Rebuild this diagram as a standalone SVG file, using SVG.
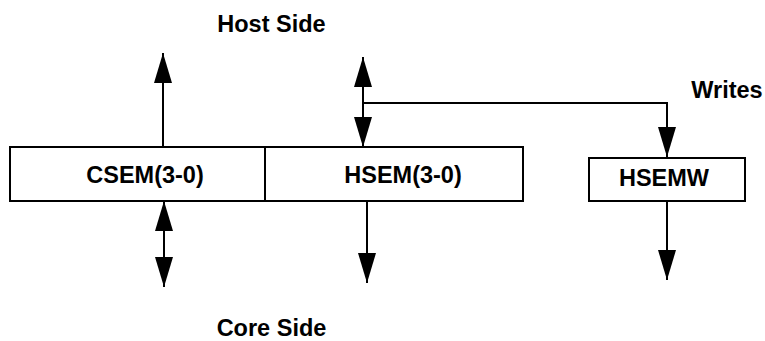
<svg xmlns="http://www.w3.org/2000/svg" width="765" height="341" viewBox="0 0 765 341">
<style>
.box{fill:#fff;stroke:#000;stroke-width:2}
.lbl{font-family:"Liberation Sans",Arial,sans-serif;font-weight:bold;font-size:23.5px;fill:#000;text-anchor:middle}
.wire{fill:none;stroke:#000;stroke-width:2}
</style>
<defs>
<marker id="ah" viewBox="0 0 30 18" refX="30" refY="9" markerWidth="30" markerHeight="18" markerUnits="userSpaceOnUse" orient="auto-start-reverse">
<path d="M0,0 L30,9 L0,18 z" fill="#000"/>
</marker>
</defs>
<rect width="765" height="341" fill="#fff"/>
<text class="lbl" x="271.5" y="32">Host Side</text>
<text class="lbl" x="727" y="98">Writes</text>
<text class="lbl" x="271.5" y="336">Core Side</text>
<g id="connectors">
<line class="wire" x1="163" y1="147" x2="163" y2="53" marker-end="url(#ah)"/>
<line class="wire" x1="363" y1="57" x2="363" y2="147" marker-start="url(#ah)" marker-end="url(#ah)"/>
<polyline class="wire" points="363,103 667,103 667,157" marker-end="url(#ah)"/>
<line class="wire" x1="164" y1="201" x2="164" y2="287" marker-start="url(#ah)" marker-end="url(#ah)"/>
<line class="wire" x1="367" y1="201" x2="367" y2="283" marker-end="url(#ah)"/>
<line class="wire" x1="667" y1="201" x2="667" y2="280" marker-end="url(#ah)"/>
</g>
<g id="csem">
<rect class="box" x="10" y="147" width="255" height="54"/>
<text class="lbl" x="145" y="183">CSEM(3-0)</text>
</g>
<g id="hsem">
<rect class="box" x="265" y="147" width="258" height="54"/>
<text class="lbl" x="403" y="183">HSEM(3-0)</text>
</g>
<g id="hsemw">
<rect class="box" x="589" y="158" width="156" height="43"/>
<text class="lbl" x="664" y="186">HSEMW</text>
</g>
</svg>
